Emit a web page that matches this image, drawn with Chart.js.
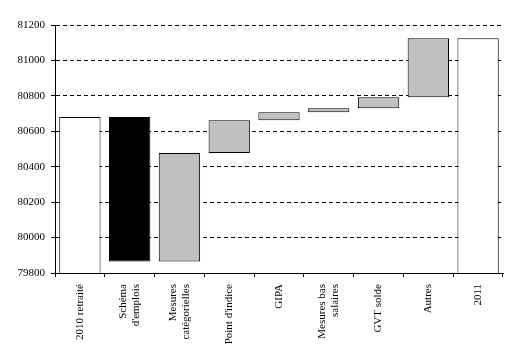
<!DOCTYPE html>
<html><head><meta charset="utf-8">
<script src="https://cdn.jsdelivr.net/npm/chart.js@4/dist/chart.umd.min.js"></script>
<style>html,body{margin:0;padding:0;background:#fff;}canvas{display:block}</style>
</head><body>
<canvas id="c" width="518" height="361"></canvas>
<script>
const categories = [
  ["2010 retraité"],
  ["Schéma", "d'emplois"],
  ["Mesures", "catégorielles"],
  ["Point d'indice"],
  ["GIPA"],
  ["Mesures bas", "salaires"],
  ["GVT solde"],
  ["Autres"],
  ["2011"]
];
const barBottoms = [79800, 79865, 79865, 80477, 80662, 80708, 80730, 80792, 79800];
const barTops    = [80680, 80680, 80477, 80662, 80708, 80730, 80792, 81125, 81125];
const yMin = 79800, yMax = 81200, yStep = 200;
const barColors = ['#ffffff', '#000000', '#c0c0c0', '#c0c0c0', '#c0c0c0', '#c0c0c0', '#c0c0c0', '#c0c0c0', '#ffffff'];

const font = {family: '"Liberation Serif", "Times New Roman", serif', size: 11, lineHeight: 1.2};

// Center multi-line rotated category labels on their tick (Excel style)
const centerLabels = {
  id: 'centerLabels',
  beforeDraw(chart) {
    const s = chart.scales.x;
    const items = s.getLabelItems(chart.chartArea);
    const lh = font.size * font.lineHeight;
    items.forEach(it => {
      if (it._centered) return;
      const n = Array.isArray(it.label) ? it.label.length : 1;
      it.options.translation[0] -= (n - 1) * lh / 2;
      it._centered = true;
    });
  }
};

new Chart(document.getElementById('c'), {
  type: 'bar',
  data: {
    labels: categories,
    datasets: [{
      data: barBottoms.map((b, i) => [b, barTops[i]]),
      backgroundColor: barColors,
      borderColor: '#000000',
      borderWidth: 1,
      borderSkipped: ctx => (barBottoms[ctx.dataIndex] === yMin ? 'start' : false),
      barPercentage: 0.83,
      categoryPercentage: 1
    }]
  },
  plugins: [centerLabels],
  options: {
    responsive: false,
    animation: false,
    devicePixelRatio: 1,
    layout: {padding: {top: 25, right: 15, bottom: 0, left: 0}},
    plugins: {legend: {display: false}, tooltip: {enabled: false}},
    scales: {
      x: {
        offset: true,
        grid: {drawOnChartArea: false, color: '#000', tickLength: 4, offset: true, tickColor: '#000'},
        border: {display: true, color: '#000', width: 1},
        ticks: {autoSkip: false, minRotation: 90, maxRotation: 90, color: '#000', font: font, padding: 7},
        afterFit(s) { s.height = 88; }
      },
      y: {
        min: yMin, max: yMax,
        grid: {color: '#000', lineWidth: 1, tickLength: 4, tickColor: '#000', tickBorderDash: []},
        border: {display: true, color: '#000', width: 1, dash: [4, 3]},
        ticks: {stepSize: yStep, color: '#000', font: font, padding: 6, callback: v => String(v)},
        afterFit(s) { s.width = 55; }
      }
    }
  }
});
</script>
</body></html>
